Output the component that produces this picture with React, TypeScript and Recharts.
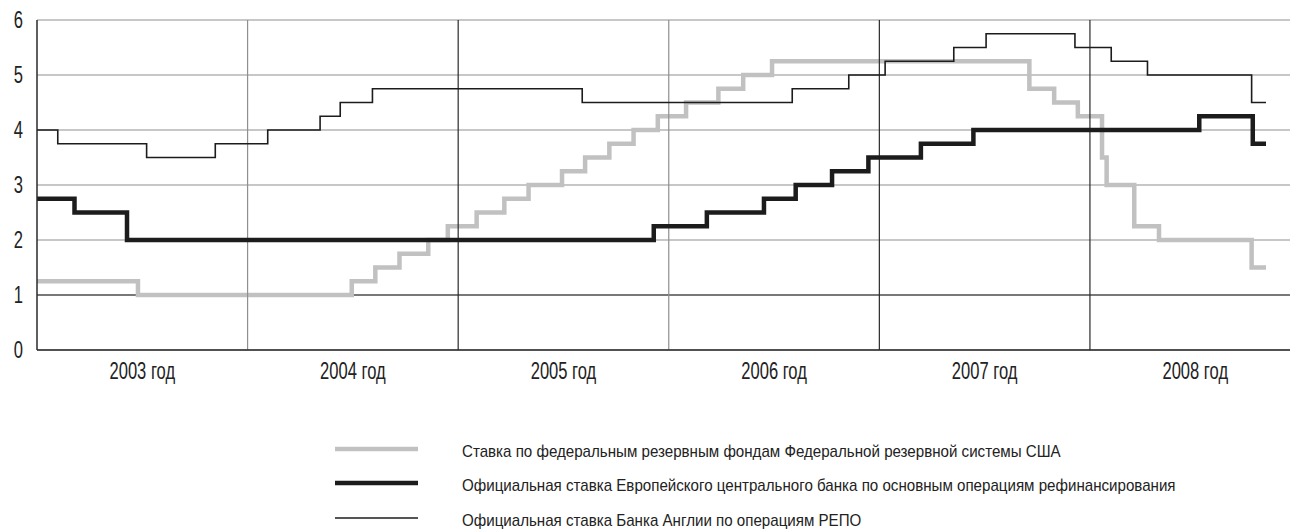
import React from "react";
import {
  LineChart,
  Line,
  XAxis,
  YAxis,
  CartesianGrid,
  ReferenceLine,
  Legend,
} from "recharts";

// ---- Data (dates of rate changes, rate after the change) ----
const fedDates = [
  "2003-01-01", "2003-06-25", "2004-06-30", "2004-08-10", "2004-09-21", "2004-11-10",
  "2004-12-14", "2005-02-02", "2005-03-22", "2005-05-03", "2005-06-30", "2005-08-09",
  "2005-09-20", "2005-11-01", "2005-12-13", "2006-01-31", "2006-03-28", "2006-05-10",
  "2006-06-29", "2007-09-18", "2007-10-31", "2007-12-11", "2008-01-22", "2008-01-30",
  "2008-03-18", "2008-04-30", "2008-10-08", "2008-11-02",
];
const fedRates = [
  1.25, 1.0, 1.25, 1.5, 1.75, 2.0,
  2.25, 2.5, 2.75, 3.0, 3.25, 3.5,
  3.75, 4.0, 4.25, 4.5, 4.75, 5.0,
  5.25, 4.75, 4.5, 4.25, 3.5, 3.0,
  2.25, 2.0, 1.5, 1.5,
];

const ecbDates = [
  "2003-01-01", "2003-03-07", "2003-06-06", "2005-12-06", "2006-03-08", "2006-06-15",
  "2006-08-09", "2006-10-11", "2006-12-13", "2007-03-14", "2007-06-13", "2008-07-09",
  "2008-10-10", "2008-11-02",
];
const ecbRates = [2.75, 2.5, 2.0, 2.25, 2.5, 2.75, 3.0, 3.25, 3.5, 3.75, 4.0, 4.25, 3.75, 3.75];

const boeDates = [
  "2003-01-01", "2003-02-06", "2003-07-10", "2003-11-06", "2004-02-05", "2004-05-06",
  "2004-06-10", "2004-08-05", "2005-08-04", "2006-08-03", "2006-11-09", "2007-01-11",
  "2007-05-10", "2007-07-05", "2007-12-06", "2008-02-07", "2008-04-10", "2008-10-08",
  "2008-11-02",
];
const boeRates = [
  4.0, 3.75, 3.5, 3.75, 4.0, 4.25, 4.5, 4.75, 4.5, 4.75, 5.0, 5.25, 5.5, 5.75, 5.5, 5.25,
  5.0, 4.5, 4.5,
];

const yearStarts = [2004, 2005, 2006, 2007, 2008];
const yearMids = [2003.5, 2004.5, 2005.5, 2006.5, 2007.5, 2008.5];
const xTickLabels = ["2003 год", "2004 год", "2005 год", "2006 год", "2007 год", "2008 год"];
const yTicks = [0, 1, 2, 3, 4, 5, 6];

const seriesNames = [
  "Ставка по федеральным резервным фондам Федеральной резервной системы США",
  "Официальная ставка Европейского центрального банка по основным операциям рефинансирования",
  "Официальная ставка Банка Англии по операциям РЕПО",
];

// ---- helpers ----
const toYear = (s: string) => {
  const [y, m, d] = s.split("-").map(Number);
  const start = Date.UTC(y, 0, 1);
  const end = Date.UTC(y + 1, 0, 1);
  return y + (Date.UTC(y, m - 1, d) - start) / (end - start);
};
const build = (dates: string[], rates: number[]) =>
  dates.map((d, i) => ({ t: toYear(d), v: rates[i] }));

const fedData = build(fedDates, fedRates);
const ecbData = build(ecbDates, ecbRates);
const boeData = build(boeDates, boeRates);

const FONT = "'Liberation Sans', Arial, sans-serif";
const FED_COLOR = "#c1c1c1";
const DARK = "#1c1c1c";
const GRID_LIGHT = "#8f8f8f";
const GRID_DARK = "#2a2a2a";
const TEXT = "#222";
const AXIS_SCALE = 0.72;
const LEGEND_SCALE = 0.89;

const XTick = (props: any) => {
  const { x, y, payload } = props;
  const label = xTickLabels[yearMids.indexOf(payload.value)] ?? "";
  return (
    <g transform={`translate(${x},${y})`}>
      <text
        transform={`scale(${AXIS_SCALE},1)`}
        textAnchor="middle"
        dy="0.72em"
        fontFamily={FONT}
        fontSize={23}
        fill={TEXT}
      >
        {label}
      </text>
    </g>
  );
};

const YTick = (props: any) => {
  const { x, y, payload } = props;
  return (
    <g transform={`translate(${x},${y})`}>
      <text
        transform={`scale(${AXIS_SCALE},1)`}
        textAnchor="end"
        dy="0.36em"
        fontFamily={FONT}
        fontSize={23}
        fill={TEXT}
      >
        {payload.value}
      </text>
    </g>
  );
};

const legendStyles = [
  { stroke: FED_COLOR, width: 4.5 },
  { stroke: DARK, width: 4.5 },
  { stroke: DARK, width: 1.6 },
];

const LegendContent = () => (
  <svg width={1290} height={100} style={{ display: "block" }}>
    {seriesNames.map((name, i) => {
      const cy = [19, 53, 88][i];
      return (
        <g key={name}>
          <line
            x1={335}
            x2={418}
            y1={cy}
            y2={cy}
            stroke={legendStyles[i].stroke}
            strokeWidth={legendStyles[i].width}
          />
          <g transform={`translate(462,${cy + 2})`}>
            <text
              transform={`scale(${LEGEND_SCALE},1)`}
              dy="0.36em"
              fontFamily={FONT}
              fontSize={17}
              fill={TEXT}
            >
              {name}
            </text>
          </g>
        </g>
      );
    })}
  </svg>
);

export default function App() {
  return (
    <div style={{ position: "absolute", left: 0, top: 0, width: 1290, height: 530, background: "#fff" }}>
      <LineChart
        width={1290}
        height={530}
        margin={{ top: 20, right: 0, left: 0, bottom: 150 }}
        style={{ fontFamily: FONT }}
      >
        <CartesianGrid horizontal vertical={false} stroke={GRID_LIGHT} strokeWidth={1.2} />
        <XAxis
          type="number"
          dataKey="t"
          domain={[2003, 2008.95]}
          allowDataOverflow
          ticks={yearMids}
          interval={0}
          tickLine={false}
          tickSize={0}
          tickMargin={12}
          height={30}
          axisLine={{ stroke: GRID_DARK, strokeWidth: 1.5 }}
          tick={<XTick />}
        />
        <YAxis
          type="number"
          domain={[0, 6]}
          ticks={yTicks}
          interval={0}
          width={37}
          tickLine={false}
          tickSize={0}
          tickMargin={14}
          axisLine={{ stroke: GRID_DARK, strokeWidth: 1.5 }}
          tick={<YTick />}
        />
        <ReferenceLine y={1} stroke={GRID_DARK} strokeWidth={1.2} />
        <Line
          data={fedData}
          dataKey="v"
          type="stepAfter"
          stroke={FED_COLOR}
          strokeWidth={4.5}
          dot={false}
          activeDot={false}
          isAnimationActive={false}
        />
        {yearStarts.map((y) => (
          <ReferenceLine
            key={y}
            x={y}
            stroke={y === 2004 || y === 2006 ? GRID_LIGHT : GRID_DARK}
            strokeWidth={1.2}
          />
        ))}
        <Line
          data={ecbData}
          dataKey="v"
          type="stepAfter"
          stroke={DARK}
          strokeWidth={4.5}
          dot={false}
          activeDot={false}
          isAnimationActive={false}
        />
        <Line
          data={boeData}
          dataKey="v"
          type="stepAfter"
          stroke={DARK}
          strokeWidth={1.6}
          dot={false}
          activeDot={false}
          isAnimationActive={false}
        />
        <Legend
          layout="horizontal"
          verticalAlign="middle"
          align="center"
          wrapperStyle={{ position: "absolute", left: 0, top: 430, width: 1290, height: 100 }}
          content={<LegendContent />}
        />
      </LineChart>
    </div>
  );
}
